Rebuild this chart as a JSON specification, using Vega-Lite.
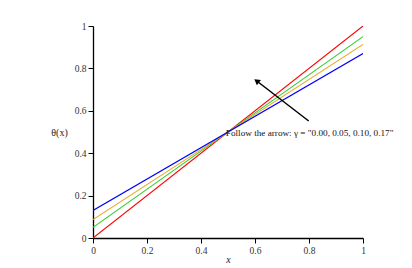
{
  "$schema": "https://vega.github.io/schema/vega-lite/v6.json",
  "width": 270,
  "height": 212,
  "autosize": "none",
  "padding": {"left": 93, "top": 26, "right": 49, "bottom": 30},
  "background": "white",
  "config": {
    "view": {"stroke": null},
    "font": "Liberation Serif",
    "axis": {
      "grid": false,
      "domainColor": "black",
      "domainWidth": 1.3,
      "tickColor": "black",
      "labelFont": "Liberation Serif",
      "labelFontSize": 9.5,
      "labelColor": "#333",
      "titleFont": "Liberation Serif",
      "titleFontWeight": "normal",
      "titleFontSize": 10,
      "titleColor": "#222"
    }
  },
  "datasets": {
    "lines": [
      {"gamma": "0.00", "x": 0, "y": 0},
      {"gamma": "0.00", "x": 1, "y": 1},
      {"gamma": "0.05", "x": 0, "y": 0.05},
      {"gamma": "0.05", "x": 1, "y": 0.95},
      {"gamma": "0.10", "x": 0, "y": 0.087},
      {"gamma": "0.10", "x": 1, "y": 0.913},
      {"gamma": "0.17", "x": 0, "y": 0.13},
      {"gamma": "0.17", "x": 1, "y": 0.87}
    ],
    "arrow": [
      {"x": 0.799, "y": 0.552, "x2": 0.603, "y2": 0.744}
    ],
    "head": [
      {"x": 0.606, "y": 0.741}
    ],
    "label": [
      {"x": 0.492, "y": 0.494, "text": "Follow the arrow: γ = \"0.00, 0.05, 0.10, 0.17\""}
    ]
  },
  "layer": [
    {
      "data": {"name": "lines"},
      "mark": {"type": "line", "strokeWidth": 1.1, "clip": true},
      "encoding": {
        "x": {
          "field": "x", "type": "quantitative",
          "scale": {"domain": [0, 1], "nice": false, "zero": false},
          "axis": {
            "title": "x",
            "titleFontStyle": "italic",
            "titleY": 21,
            "titleBaseline": "middle",
            "values": [0, 0.1, 0.2, 0.3, 0.4, 0.5, 0.6, 0.7, 0.8, 0.9, 1],
            "format": ".1~f",
            "labelExpr": "round(datum.value*10) % 2 === 0 ? datum.label : ''",
            "tickSize": {"condition": {"test": "round(datum.value*10) % 2 === 0", "value": 5}, "value": 3},
            "labelPadding": 2,
            "labelFlush": false
          }
        },
        "y": {
          "field": "y", "type": "quantitative",
          "scale": {"domain": [0, 1], "nice": false, "zero": false},
          "axis": {
            "title": "θ(x)",
            "titleAngle": 0,
            "titleX": -34,
            "titleY": 106,
            "titleAlign": "center",
            "titleBaseline": "middle",
            "values": [0, 0.1, 0.2, 0.3, 0.4, 0.5, 0.6, 0.7, 0.8, 0.9, 1],
            "format": ".1~f",
            "labelExpr": "round(datum.value*10) % 2 === 0 ? datum.label : ''",
            "tickSize": {"condition": {"test": "round(datum.value*10) % 2 === 0", "value": 5}, "value": 3},
            "labelPadding": 2,
            "labelFlush": false
          }
        },
        "color": {
          "field": "gamma", "type": "nominal",
          "scale": {"domain": ["0.00", "0.05", "0.10", "0.17"], "range": ["#ff0000", "#33cc33", "#e6a828", "#0000ff"]},
          "legend": null
        },
        "order": {"field": "x"}
      }
    },
    {
      "data": {"name": "arrow"},
      "mark": {"type": "rule", "color": "black", "strokeWidth": 1.5},
      "encoding": {
        "x": {"field": "x", "type": "quantitative"},
        "y": {"field": "y", "type": "quantitative"},
        "x2": {"field": "x2"},
        "y2": {"field": "y2"}
      }
    },
    {
      "data": {"name": "head"},
      "mark": {"type": "point", "shape": "triangle-up", "filled": true, "color": "black", "opacity": 1, "size": 45, "angle": 307.7},
      "encoding": {
        "x": {"field": "x", "type": "quantitative"},
        "y": {"field": "y", "type": "quantitative"}
      }
    },
    {
      "data": {"name": "label"},
      "mark": {"type": "text", "align": "left", "baseline": "middle", "font": "Liberation Serif", "fontSize": 9.2, "color": "#111"},
      "encoding": {
        "x": {"field": "x", "type": "quantitative"},
        "y": {"field": "y", "type": "quantitative"},
        "text": {"field": "text"}
      }
    }
  ]
}
